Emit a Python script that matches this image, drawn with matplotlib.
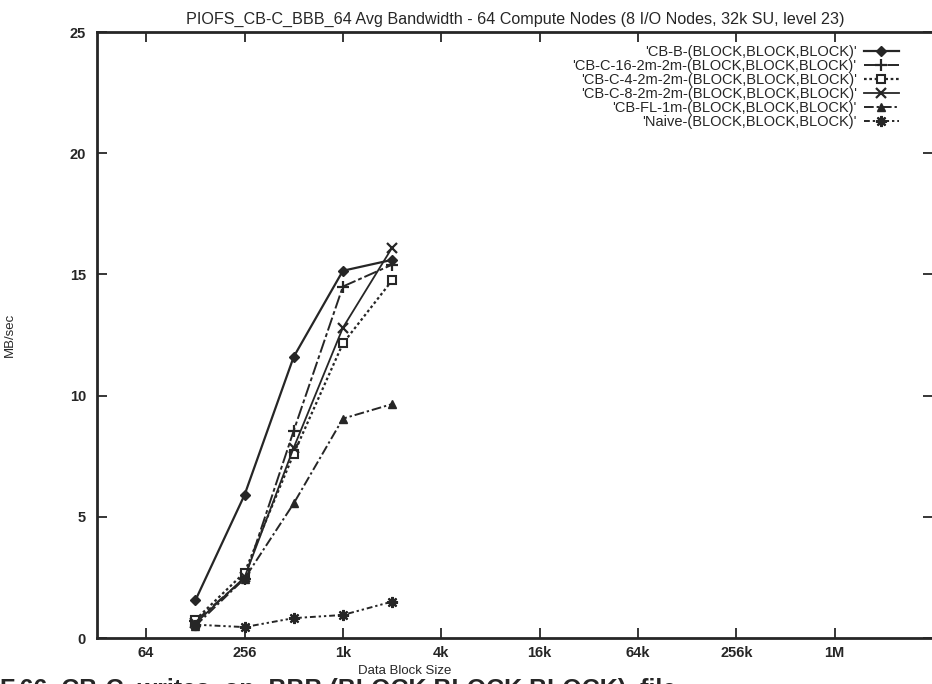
import numpy as np
import matplotlib.pyplot as plt

plt.rcParams['font.family'] = ['Liberation Sans', 'DejaVu Sans']

# block sizes (bytes) and average bandwidth (MB/sec)
sizes = [128, 256, 512, 1024, 2048]
cb_b   = [1.55, 5.9, 11.6, 15.15, 15.6]
cb_c16 = [0.7, 2.45, 8.55, 14.5, 15.4]
cb_c4  = [0.75, 2.7, 7.6, 12.15, 14.75]
cb_c8  = [0.6, 2.5, 7.85, 12.8, 16.1]
cb_fl  = [0.5, 2.45, 5.55, 9.05, 9.65]
naive  = [0.55, 0.45, 0.82, 0.95, 1.5]

tick_pos = [64, 256, 1024, 4096, 16384, 65536, 262144, 1048576]
tick_lbl = ['64', '256', '1k', '4k', '16k', '64k', '256k', '1M']

fig = plt.figure(figsize=(9.32, 6.84), dpi=100)
ax = fig.add_axes([97/932, 1-638/684, (933-97)/932, (638-32)/684])

c = '#262626'
ax.plot(sizes, cb_b, color=c, lw=1.6, ls='-', marker='D', ms=5,
        label="'CB-B-(BLOCK,BLOCK,BLOCK)'")
ax.plot(sizes, cb_c16, color=c, lw=1.4, ls=(0, (7, 1.5, 2, 1.5)), marker='+', ms=9, mew=1.6,
        label="'CB-C-16-2m-2m-(BLOCK,BLOCK,BLOCK)'")
ax.plot(sizes, cb_c4, color=c, lw=1.6, ls=(0, (1.2, 1.2)), marker='s', ms=6,
        mfc='white', mew=1.5, label="'CB-C-4-2m-2m-(BLOCK,BLOCK,BLOCK)'")
ax.plot(sizes, cb_c8, color=c, lw=1.3, ls='-', marker='x', ms=7, mew=1.6,
        label="'CB-C-8-2m-2m-(BLOCK,BLOCK,BLOCK)'")
ax.plot(sizes, cb_fl, color=c, lw=1.4, ls=(0, (5, 1.5, 1.2, 1.5)), marker='^', ms=6,
        label="'CB-FL-1m-(BLOCK,BLOCK,BLOCK)'")
ax.plot(sizes, naive, color=c, lw=1.4, ls=(0, (3, 1.5, 1.2, 1.5, 1.2, 1.5)),
        marker=(8, 2, 0), ms=8, mew=1.6,
        label="'Naive-(BLOCK,BLOCK,BLOCK)'")

ax.set_xscale('log', base=2)
ax.set_xlim(32, 2**22)
ax.set_ylim(0, 25)
ax.set_xticks(tick_pos)
ax.set_xticklabels(tick_lbl)
ax.minorticks_off()
ax.set_yticks([0, 5, 10, 15, 20, 25])
ax.tick_params(direction='in', top=True, right=True, length=7, width=1.3,
               labelsize=10.5, colors=c, pad=8)
ax.tick_params(axis='x', pad=6)
for lab in ax.get_xticklabels() + ax.get_yticklabels():
    lab.set_fontweight('bold')
for s in ax.spines.values():
    s.set_linewidth(2)
    s.set_color(c)

leg = ax.legend(loc='upper right', frameon=False, markerfirst=False,
                fontsize=10.5, handlelength=2.4, labelspacing=0.0,
                borderaxespad=0.5, handletextpad=0.5,
                bbox_to_anchor=(0.975, 1.0))
for t in leg.get_texts():
    t.set_ha('right')
    t.set_color(c)
leg._legend_box.align = 'right'

ax.set_title('PIOFS_CB-C_BBB_64 Avg Bandwidth - 64 Compute Nodes (8 I/O Nodes, 32k SU, level 23)',
             fontsize=11.6, color=c, pad=6)
fig.text(10/932, 1-335/684, 'MB/sec', rotation=90, ha='center', va='center',
         fontsize=9.5, color=c)
fig.text(405/932, 1-671/684, 'Data Block Size', ha='center', va='center',
         fontsize=9.5, color=c)

# caption line cut at the lower edge of the page
fig.text(0.0, 1-678/684, 'F.66  CB-C  writes  on  BBB (BLOCK,BLOCK,BLOCK)  file',
         ha='left', va='top', fontsize=18, fontweight='bold', color=c)

fig.savefig('out.png', dpi=100)
